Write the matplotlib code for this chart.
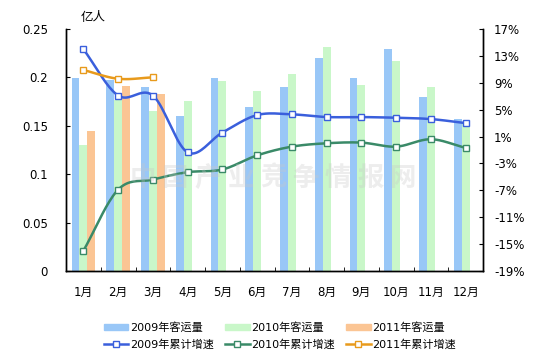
import numpy as np
import matplotlib
matplotlib.use("Agg")
import matplotlib.pyplot as plt
from matplotlib.lines import Line2D
from matplotlib.patches import Patch

plt.rcParams['font.family'] = ['DejaVu Sans', 'Noto Sans CJK SC']

months = ['1月', '2月', '3月', '4月', '5月', '6月', '7月', '8月', '9月', '10月', '11月', '12月']
vol_2009 = [0.199, 0.197, 0.190, 0.160, 0.199, 0.169, 0.190, 0.220, 0.199, 0.229, 0.180, 0.157]
vol_2010 = [0.130, 0.177, 0.165, 0.176, 0.196, 0.186, 0.203, 0.231, 0.192, 0.217, 0.190, 0.154]
vol_2011 = [0.145, 0.191, 0.183]
growth_2009 = [14.0, 7.1, 7.1, -1.35, 1.6, 4.2, 4.3, 3.9, 3.9, 3.8, 3.6, 3.0]
growth_2010 = [-16.0, -6.9, -5.4, -4.3, -3.9, -1.8, -0.5, 0.0, 0.1, -0.5, 0.6, -0.7]
growth_2011 = [10.9, 9.6, 9.8]
left_ticks = [0, 0.05, 0.1, 0.15, 0.2, 0.25]
left_labels = ['0', '0.05', '0.1', '0.15', '0.2', '0.25']
right_ticks = [-19, -15, -11, -7, -3, 1, 5, 9, 13, 17]
right_labels = ['-19%', '-15%', '-11%', '-7%', '-3%', '1%', '5%', '9%', '13%', '17%']

W, H = 541, 364
fig = plt.figure(figsize=(W / 100, H / 100), dpi=100)
ax = fig.add_axes([66 / W, 1 - 271 / H, (483 - 66) / W, (271 - 29) / H])
ax2 = ax.twinx()

c09b, c10b, c11b = '#99c7f7', '#c9f7c9', '#fbc594'
c09l, c10l, c11l = '#3a5fdc', '#3a8a68', '#e89a1c'

x = np.arange(len(months))
bw = 0.225
ax.bar(x - bw, vol_2009, width=bw, color=c09b, zorder=2)
ax.bar(x, vol_2010, width=bw, color=c10b, zorder=2)
ax.bar(np.arange(len(vol_2011)) + bw, vol_2011, width=bw, color=c11b, zorder=2)

def smooth(xs, ys, n=20):
    xs = np.asarray(xs, float); ys = np.asarray(ys, float)
    if len(xs) < 3:
        return xs, ys
    P = np.column_stack([xs, ys])
    P = np.vstack([2 * P[0] - P[1], P, 2 * P[-1] - P[-2]])
    out = []
    for i in range(1, len(P) - 2):
        p0, p1, p2, p3 = P[i - 1], P[i], P[i + 1], P[i + 2]
        t = np.linspace(0, 1, n, endpoint=False)[:, None]
        pts = 0.5 * ((2 * p1) + (-p0 + p2) * t + (2 * p0 - 5 * p1 + 4 * p2 - p3) * t ** 2
                     + (-p0 + 3 * p1 - 3 * p2 + p3) * t ** 3)
        out.append(pts)
    out.append(P[-2][None, :])
    out = np.vstack(out)
    return out[:, 0], out[:, 1]

for vals, col in [(growth_2009, c09l), (growth_2010, c10l), (growth_2011, c11l)]:
    xi = np.arange(len(vals))
    sx, sy = smooth(xi, vals)
    ax2.plot(sx, sy, color=col, lw=1.8, zorder=3)
    ax2.plot(xi, vals, ls='none', marker='s', ms=4.5, mfc='white', mec=col, mew=1.0, zorder=4)

ax.set_xlim(-0.5, 11.5)
ax.set_ylim(0, 0.25)
ax2.set_ylim(-19, 17)
ax.set_yticks(left_ticks)
ax.set_yticklabels(left_labels)
ax2.set_yticks(right_ticks)
ax2.set_yticklabels(right_labels)
ax.set_xticks(x)
ax.set_xticklabels(months)
ax.set_xticks(np.arange(0.5, 11, 1), minor=True)
ax.tick_params(axis='x', which='major', length=0, pad=11, labelsize=8.5)
ax.tick_params(axis='x', which='minor', length=3, direction='in')
ax.tick_params(axis='y', direction='in', length=3, labelsize=8.5, pad=13)
ax2.tick_params(axis='y', direction='in', length=3, labelsize=8.5, pad=8)
for a in (ax, ax2):
    a.spines['top'].set_visible(False)
    for s in ('left', 'right', 'bottom'):
        a.spines[s].set_linewidth(1.0)
ax.set_zorder(ax2.get_zorder() - 1)
ax2.patch.set_visible(False)

fig.text(93 / W, 1 - 17 / H, '亿人', fontsize=9, ha='center', va='center')

wm = '中国产业竞争情报网'
for i, ch in enumerate(wm):
    fig.text((143 + i * 32.5) / W, 1 - 178 / H, ch, fontsize=19, fontweight='bold',
             family=['Noto Sans CJK SC'], color='#c8c8c8', alpha=0.32,
             ha='center', va='center', zorder=0)

handles = [Patch(color=c09b), Line2D([], [], color=c09l, lw=1.8, marker='s', ms=4, mfc='white', mec=c09l),
           Patch(color=c10b), Line2D([], [], color=c10l, lw=1.8, marker='s', ms=4, mfc='white', mec=c10l),
           Patch(color=c11b), Line2D([], [], color=c11l, lw=1.8, marker='s', ms=4, mfc='white', mec=c11l)]
labels = ['2009年客运量', '2009年累计增速', '2010年客运量', '2010年累计增速', '2011年客运量', '2011年累计增速']
fig.legend(handles, labels, ncol=3, loc='center', bbox_to_anchor=(280 / W, 1 - 336 / H),
           frameon=False, fontsize=8, handlelength=2.2, handleheight=0.5,
           columnspacing=1.0, labelspacing=0.6, handletextpad=0.15)

fig.savefig('out.png', dpi=100)
